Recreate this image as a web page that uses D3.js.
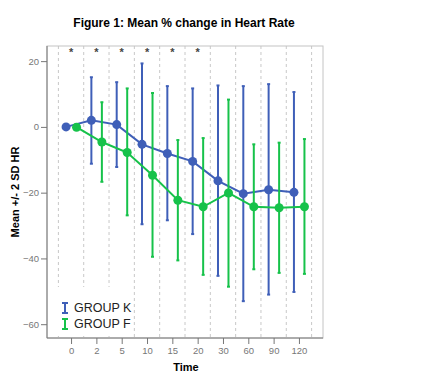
<!DOCTYPE html>
<meta charset="utf-8">
<style>
body { margin: 0; background: #fff; }
svg { font-family: "Liberation Sans", Arial, sans-serif; }
.grid line { stroke: #c8c8c8; stroke-dasharray: 3,3; }
.axis text { fill: #777; font-size: 9.5px; }
.axis path, .axis line { stroke: #777; }
</style>
<svg width="431" height="384"></svg>
<script src="https://cdn.jsdelivr.net/npm/d3@7"></script>
<script>

var times = ["0", "2", "5", "10", "15", "20", "30", "60", "90", "120"];

// group K (blue)
var kMean  = [0, 2.0, 0.7, -5.3, -8.1, -10.5, -16.4, -20.3, -19.1, -19.9];
var kUpper = [null, 15.1, 13.6, 19.3, 12.4, 11.7, 12.6, 12.4, 13.0, 10.6];
var kLower = [null, -11.2, -12.2, -29.6, -28.4, -32.6, -45.3, -53.0, -51.0, -50.2];

// group F (green)
var fMean  = [-0.1, -4.6, -7.8, -14.7, -22.3, -24.3, -20.1, -24.3, -24.6, -24.3];
var fUpper = [null, 7.5, 11.7, 10.3, -4.0, -3.4, 8.3, -5.3, -4.8, -3.7];
var fLower = [null, -16.7, -26.9, -39.5, -40.6, -45.0, -48.6, -43.3, -44.4, -44.7];

var starred = ["0", "2", "5", "10", "15", "20"];
var yTicks = [20, 0, -20, -40, -60];

var svg = d3.select("svg");
var pL = 47, pR = 323, pT = 46, pB = 338;

var x = d3.scalePoint().domain(times).range([pL, pR]).padding(0.95);
var y = d3.scaleLinear().domain([-64.2, 24.6]).range([pB, pT]);
var step = x.step();

// title
svg.append("text")
    .attr("x", 184).attr("y", 27)
    .attr("text-anchor", "middle")
    .style("font-weight", "bold").style("font-size", "12px")
    .text("Figure 1: Mean % change in Heart Rate");

// gridlines between categories
var gx = times.map(function(t) { return x(t) - step / 2; });
gx.push(x(times[times.length - 1]) + step / 2);
svg.append("g").attr("class", "grid")
  .selectAll("line").data(gx)
  .enter().append("line")
    .attr("x1", function(d) { return d; }).attr("x2", function(d) { return d; })
    .attr("y1", pT).attr("y2", pB);

// frame
svg.append("rect")
    .attr("x", pL).attr("y", pT)
    .attr("width", pR - pL).attr("height", pB - pT)
    .attr("fill", "none").attr("stroke", "#c4c4c4");

// axes
svg.append("g").attr("class", "axis")
    .attr("transform", "translate(" + pL + ",0)")
    .call(d3.axisLeft(y).tickValues(yTicks).tickSize(6).tickPadding(2))
    .call(function(g) { g.select(".domain").attr("d", "M0," + pT + "V" + pB); });

svg.append("g").attr("class", "axis")
    .attr("transform", "translate(0," + pB + ")")
    .call(d3.axisBottom(x).tickSize(6).tickPadding(3))
    .call(function(g) { g.select(".domain").attr("d", "M" + pL + ",0H" + pR); });

svg.append("text")
    .attr("x", 186).attr("y", 371)
    .attr("text-anchor", "middle")
    .style("font-weight", "bold").style("font-size", "11px")
    .text("Time");

svg.append("text")
    .attr("transform", "translate(19," + ((pT + pB) / 2) + ") rotate(-90)")
    .attr("text-anchor", "middle")
    .style("font-weight", "bold").style("font-size", "11px")
    .text("Mean +/- 2 SD HR");

// asterisks
svg.append("g").selectAll("text").data(starred)
  .enter().append("text")
    .attr("x", function(d) { return x(d); }).attr("y", 56)
    .attr("text-anchor", "middle")
    .style("font-size", "11px").style("font-weight", "bold").attr("fill", "#444")
    .text("*");

// legend background (hides gridlines)
svg.append("rect")
    .attr("x", 52).attr("y", 287).attr("width", 80).attr("height", 49)
    .attr("fill", "#fff");

var groups = [
  { name: "GROUP K", color: "#3f5fb8", mean: kMean, up: kUpper, lo: kLower, dx: -5 },
  { name: "GROUP F", color: "#16c24a", mean: fMean, up: fUpper, lo: fLower, dx: 5.5 }
];

groups.forEach(function(gr, gi) {
  var g = svg.append("g");
  var pts = times.map(function(t, i) {
    return { t: t, m: gr.mean[i], u: gr.up[i], l: gr.lo[i] };
  });
  var bars = pts.filter(function(d) { return d.u !== null; });

  g.selectAll(".bar").data(bars).enter().append("line")
      .attr("x1", function(d) { return x(d.t) + gr.dx; })
      .attr("x2", function(d) { return x(d.t) + gr.dx; })
      .attr("y1", function(d) { return y(d.u); })
      .attr("y2", function(d) { return y(d.l); })
      .attr("stroke", gr.color).attr("stroke-width", 2);

  g.selectAll(".cap").data(bars.concat(bars)).enter().append("line")
      .attr("x1", function(d) { return x(d.t) + gr.dx - 1.5; })
      .attr("x2", function(d) { return x(d.t) + gr.dx + 1.5; })
      .attr("y1", function(d, i) { return i < bars.length ? y(d.u) : y(d.l); })
      .attr("y2", function(d, i) { return i < bars.length ? y(d.u) : y(d.l); })
      .attr("stroke", gr.color).attr("stroke-width", 2);

  g.append("path").datum(pts)
      .attr("fill", "none").attr("stroke", gr.color).attr("stroke-width", 2)
      .attr("d", d3.line()
        .x(function(d) { return x(d.t) + gr.dx; })
        .y(function(d) { return y(d.m); }));

  g.selectAll("circle").data(pts).enter().append("circle")
      .attr("cx", function(d) { return x(d.t) + gr.dx; })
      .attr("cy", function(d) { return y(d.m); })
      .attr("r", 4.5).attr("fill", gr.color);

  // legend entry
  var ly = 303 + gi * 16;
  var lg = svg.append("g").attr("stroke", gr.color).attr("stroke-width", 2);
  lg.append("line").attr("x1", 65).attr("x2", 65).attr("y1", ly).attr("y2", ly + 10);
  lg.append("line").attr("x1", 62).attr("x2", 68).attr("y1", ly).attr("y2", ly);
  lg.append("line").attr("x1", 62).attr("x2", 68).attr("y1", ly + 10).attr("y2", ly + 10);
  svg.append("text")
      .attr("x", 74).attr("y", ly + 9)
      .style("font-size", "12.5px").attr("fill", "#222")
      .text(gr.name);
});

</script>
